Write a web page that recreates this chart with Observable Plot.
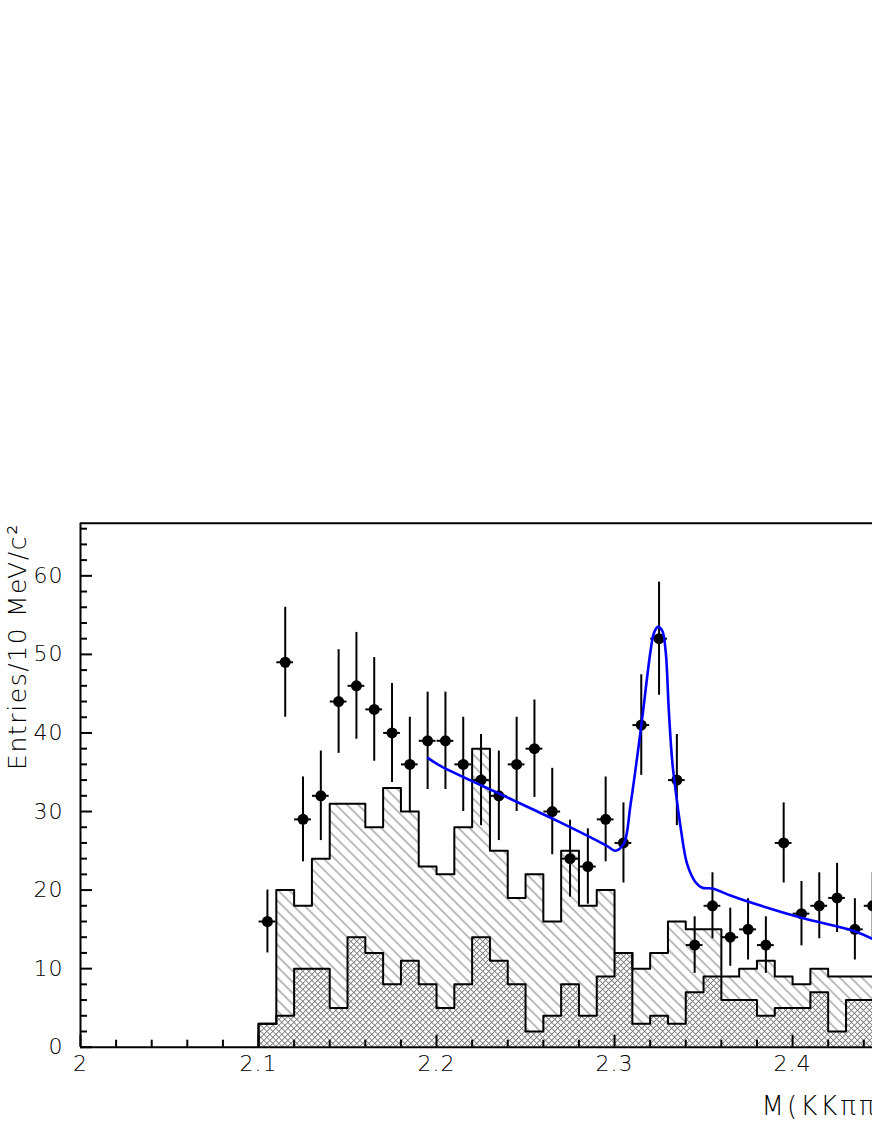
<!DOCTYPE html>
<html><head><meta charset="utf-8">
<script src="https://cdn.jsdelivr.net/npm/d3@7"></script>
<script src="https://cdn.jsdelivr.net/npm/@observablehq/plot@0.6"></script>
<style>html,body{margin:0;padding:0;background:#fff;overflow:hidden;}</style>
</head><body><div id="chart"></div>
<script>
// ---- data ----
const binLow = [2.10,2.11,2.12,2.13,2.14,2.15,2.16,2.17,2.18,2.19,2.20,2.21,2.22,2.23,2.24,2.25,2.26,2.27,2.28,2.29,2.30,2.31,2.32,2.33,2.34,2.35,2.36,2.37,2.38,2.39,2.40,2.41,2.42,2.43,2.44];
const binEnd = 2.45;
const totalHist = [3,20,18,24,31,31,28,33,30,23,22,28,38,25,19,22,16,25,18,20,12,10,12,16,15,15,9,10,11,9,8,10,9,9,9];
const innerHist = [3,4,10,10,5,14,12,8,11,8,5,8,14,11,8,2,4,8,4,9,12,3,4,3,7,9,6,6,4,5,5,7,2,6,6];

const pointX = [2.105,2.115,2.125,2.135,2.145,2.155,2.165,2.175,2.185,2.195,2.205,2.215,2.225,2.235,2.245,2.255,2.265,2.275,2.285,2.295,2.305,2.315,2.325,2.335,2.345,2.355,2.365,2.375,2.385,2.395,2.405,2.415,2.425,2.435,2.445];
const pointY = [16,49,29,32,44,46,43,40,36,39,39,36,34,32,36,38,30,24,23,29,26,41,52,34,13,18,14,15,13,26,17,18,19,15,18];
const pointErr = [4,7,5.4,5.7,6.6,6.8,6.6,6.3,6,6.2,6.2,6,5.8,5.7,6,6.2,5.5,4.9,4.8,5.4,5.1,6.4,7.2,5.8,3.6,4.2,3.7,3.9,3.6,5.1,4.1,4.2,4.4,3.9,4.2];
const pointHalfWidth = 0.0047;

const fitX = [2.1953,2.2022,2.2397,2.2678,2.2959,2.3006,2.3052,2.3090,2.3150,2.3202,2.3221,2.3243,2.3268,2.3287,2.3305,2.3324,2.3348,2.3371,2.3408,2.3455,2.3493,2.3549,2.3652,2.3727,2.4045,2.4344,2.4448];
const fitY = [36.8,35.8,31.8,28.8,25.6,25.0,25.9,30.9,40.9,50.4,52.7,53.5,53.0,50.4,42.8,36.4,31.8,28.0,23.3,21.0,20.3,20.2,19.3,18.7,16.5,14.8,13.8];

const xMajorTicks = [2, 2.1, 2.2, 2.3, 2.4];
const xTickLabels = ["2", "2.1", "2.2", "2.3", "2.4"];
const xMinorTicks = [2.02,2.04,2.06,2.08,2.12,2.14,2.16,2.18,2.22,2.24,2.26,2.28,2.32,2.34,2.36,2.38,2.42,2.44];
const yMajorTicks = [0, 10, 20, 30, 40, 50, 60];
const yTickLabels = ["0", "10", "20", "30", "40", "50", "60"];
const yMinorTicks = [2,4,6,8,12,14,16,18,22,24,26,28,32,34,36,38,42,44,46,48,52,54,56,58,62,64,66];

const xTitle = "M(KKππ\u2070) (GeV/c\u00B2)";
const xTitleAt = 2.3826;
const yTitle = "Entries/10 MeV/c\u00B2";

// ---- layout ----
const W = 872, H = 1128;
const mL = 80, mR = 0, mT = 522.7, mB = 81.3;
const xDomain = [2, 2.4449];
const yDomain = [0, 66.7];
const pxX = (W - mL - mR) / (xDomain[1] - xDomain[0]);
const pxY = (H - mT - mB) / (yDomain[1] - yDomain[0]);
const majLen = 12, minLen = 7;
const font = "DejaVu Sans";

const bins = binLow.map((x, i) => ({x, total: totalHist[i], inner: innerHist[i]}));
bins.push({x: binEnd, total: totalHist[totalHist.length - 1], inner: innerHist[innerHist.length - 1]});
const outlineTotal = [{x: binLow[0], v: 0}, ...bins.map(d => ({x: d.x, v: d.total}))];
const outlineInner = [{x: binLow[0], v: 0}, ...bins.map(d => ({x: d.x, v: d.inner}))];
const points = pointX.map((x, i) => ({x, y: pointY[i], e: pointErr[i]}));
const fit = fitX.map((x, i) => ({x, y: fitY[i]}));

const svg = Plot.plot({
  width: W, height: H,
  marginLeft: mL, marginRight: mR, marginTop: mT, marginBottom: mB,
  x: {domain: xDomain, axis: null},
  y: {domain: yDomain, axis: null},
  style: {fontFamily: font, background: "white", color: "black"},
  marks: [
    Plot.areaY(bins, {x: "x", y1: "inner", y2: "total", curve: "step-after", fill: "url(#hatchSingle)", clip: "frame"}),
    Plot.areaY(bins, {x: "x", y1: 0, y2: "inner", curve: "step-after", fill: "url(#hatchCross)", clip: "frame"}),
    Plot.line(outlineTotal, {x: "x", y: "v", curve: "step-after", stroke: "black", strokeWidth: 2, clip: "frame"}),
    Plot.line(outlineInner, {x: "x", y: "v", curve: "step-after", stroke: "black", strokeWidth: 2, clip: "frame"}),
    // frame lines (left, bottom, top)
    Plot.ruleX([xDomain[0]], {stroke: "black", strokeWidth: 2}),
    Plot.ruleY([yDomain[0]], {stroke: "black", strokeWidth: 2}),
    Plot.ruleY([yDomain[1]], {stroke: "black", strokeWidth: 2}),
    // ticks pointing inward
    Plot.ruleX(xMajorTicks, {x: d => d, y1: 0, y2: majLen / pxY, stroke: "black", strokeWidth: 2}),
    Plot.ruleX(xMinorTicks, {x: d => d, y1: 0, y2: minLen / pxY, stroke: "black", strokeWidth: 2}),
    Plot.ruleY(yMajorTicks, {y: d => d, x1: xDomain[0], x2: xDomain[0] + majLen / pxX, stroke: "black", strokeWidth: 2}),
    Plot.ruleY(yMinorTicks, {y: d => d, x1: xDomain[0], x2: xDomain[0] + minLen / pxX, stroke: "black", strokeWidth: 2}),
    // tick labels
    Plot.text(xMajorTicks, {x: d => d, y: 0, text: (d, i) => xTickLabels[i], dy: 8, lineAnchor: "top", textAnchor: "middle", fontSize: 22, fill: "black", fontWeight: 200}),
    Plot.text(yMajorTicks, {x: xDomain[0], y: d => d, text: (d, i) => yTickLabels[i], dx: -17, lineAnchor: "middle", textAnchor: "end", fontSize: 22, fill: "black", fontWeight: 200}),
    // titles
    Plot.text([yTitle], {frameAnchor: "top-left", dx: -55, rotate: -90, textAnchor: "end", lineAnchor: "bottom", fontSize: 25, fill: "black", fontWeight: 200}),
    Plot.text([xTitle], {x: xTitleAt, y: 0, dy: 68, textAnchor: "start", lineAnchor: "bottom", fontSize: 26, fill: "black", fontWeight: 200}),
    // data points with error bars
    Plot.ruleX(points, {x: "x", y1: d => d.y - d.e, y2: d => d.y + d.e, stroke: "black", strokeWidth: 2}),
    Plot.ruleY(points, {y: "y", x1: d => d.x - pointHalfWidth, x2: d => d.x + pointHalfWidth, stroke: "black", strokeWidth: 2}),
    Plot.dot(points, {x: "x", y: "y", r: 5.5, fill: "black", stroke: "none"}),
    // fit
    Plot.line(fit, {x: "x", y: "y", curve: "catmull-rom", stroke: "#0000ff", strokeWidth: 2.6})
  ]
});

const sel = d3.select(svg);
const defs = sel.insert("defs", ":first-child");
const p1 = defs.append("pattern").attr("id", "hatchSingle").attr("patternUnits", "userSpaceOnUse")
  .attr("width", 20).attr("height", 7.8).attr("patternTransform", "rotate(45)");
p1.append("line").attr("x1", 0).attr("y1", 3.9).attr("x2", 20).attr("y2", 3.9).attr("stroke", "#666").attr("stroke-width", 0.9);
const p2 = defs.append("pattern").attr("id", "hatchCross").attr("patternUnits", "userSpaceOnUse")
  .attr("width", 4.24).attr("height", 4.24).attr("patternTransform", "rotate(45)");
p2.append("rect").attr("width", 4.24).attr("height", 4.24).attr("fill", "white");
p2.append("line").attr("x1", 0).attr("y1", 2.12).attr("x2", 4.24).attr("y2", 2.12).attr("stroke", "#707070").attr("stroke-width", 0.8);
p2.append("line").attr("x1", 2.12).attr("y1", 0).attr("x2", 2.12).attr("y2", 4.24).attr("stroke", "#707070").attr("stroke-width", 0.8);

// wider letter spacing to mimic the original's broad lettering
sel.selectAll("text").each(function() {
  const t = this.textContent;
  if (t === yTitle) this.setAttribute("letter-spacing", "1.6");
  else if (t === xTitle) this.setAttribute("letter-spacing", "3");
  else this.setAttribute("letter-spacing", "1");
});

document.getElementById("chart").appendChild(svg);
</script></body></html>
